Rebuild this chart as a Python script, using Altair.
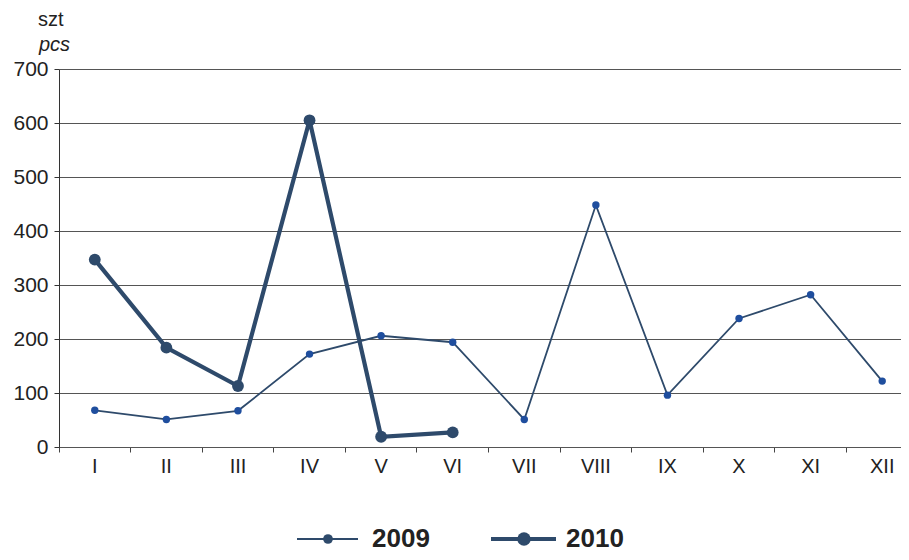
import altair as alt
import pandas as pd

months = ["I", "II", "III", "IV", "V", "VI", "VII", "VIII", "IX", "X", "XI", "XII"]
values_2009 = [68, 51, 67, 172, 206, 194, 51, 448, 96, 238, 282, 122]
values_2010 = [347, 184, 113, 605, 19, 27]
series = ["2009", "2010"]
y_ticks = [0, 100, 200, 300, 400, 500, 600, 700]
unit_labels = ["szt", "pcs"]

rows = []
for m, v in zip(months, values_2009):
    rows.append({"month": m, "year": series[0], "value": v})
for m, v in zip(months, values_2010):
    rows.append({"month": m, "year": series[1], "value": v})
df = pd.DataFrame(rows)

LINE_COLOR = "#2e4a6b"
DOT_2009 = "#1f4e9e"
FONT = "Liberation Sans"

x_enc = alt.X(
    "month:N",
    sort=months,
    bandPosition=0.5,
    scale=alt.Scale(type="band", domain=months, paddingInner=0, paddingOuter=0,
                    range=[0, 859]),
    axis=alt.Axis(
        title=None, labelAngle=0, bandPosition=0, tickSize=5,
        labelPadding=4, labelFontSize=20, labelFont=FONT, labelColor="#222",
        gridColor="#555", gridWidth=1, domainColor="#555", tickColor="#444",
    ),
)
y_enc = alt.Y(
    "value:Q",
    scale=alt.Scale(domain=[0, 700], nice=False, zero=True),
    axis=alt.Axis(
        title=None, values=y_ticks, tickSize=5, labelPadding=6,
        labelFontSize=21, labelFont=FONT, labelColor="#222",
        gridColor="#555", gridWidth=1, domainColor="#333", tickColor="#333",
    ),
)

base = alt.Chart(df).encode(x=x_enc, y=y_enc)

line09 = base.transform_filter(alt.datum.year == series[0]).mark_line(
    color=LINE_COLOR, strokeWidth=1.8)
pts09 = base.transform_filter(alt.datum.year == series[0]).mark_point(
    filled=True, size=55, color=DOT_2009, opacity=1)
line10 = base.transform_filter(alt.datum.year == series[1]).mark_line(
    color=LINE_COLOR, strokeWidth=4.2)
pts10 = base.transform_filter(alt.datum.year == series[1]).mark_point(
    filled=True, size=140, color=LINE_COLOR, opacity=1)

unit_df = pd.DataFrame({"t": unit_labels})
szt = alt.Chart(unit_df).transform_filter(alt.datum.t == unit_labels[0]).mark_text(
    align="left", baseline="alphabetic", fontSize=20, font=FONT, color="#222"
).encode(x=alt.value(-21), y=alt.value(-43), text="t:N")
pcs = alt.Chart(unit_df).transform_filter(alt.datum.t == unit_labels[1]).mark_text(
    align="left", baseline="alphabetic", fontSize=20, font=FONT, color="#222",
    fontStyle="italic"
).encode(x=alt.value(-20), y=alt.value(-18), text="t:N")

leg_df = pd.DataFrame({"year": series})
LEG_Y = 470


def legend_item(label, x0, x1, xc, xt, width, size):
    d = alt.Chart(leg_df).transform_filter(alt.datum.year == label)
    rule = d.mark_rule(color=LINE_COLOR, strokeWidth=width).encode(
        x=alt.value(x0), x2=alt.value(x1), y=alt.value(LEG_Y))
    dot = d.mark_point(filled=True, size=size, color=LINE_COLOR, opacity=1).encode(
        x=alt.value(xc), y=alt.value(LEG_Y))
    txt = d.mark_text(align="left", baseline="middle", fontSize=26, fontWeight="bold",
                      font=FONT, color="#222").encode(
        x=alt.value(xt), y=alt.value(LEG_Y), text="year:N")
    return [rule, dot, txt]


legend_layers = legend_item(series[0], 238, 299, 269, 313, 1.8, 95) + \
    legend_item(series[1], 432, 497, 465, 507, 4.2, 180)

chart = alt.layer(
    line09, pts09, line10, pts10, szt, pcs, *legend_layers
).properties(
    width=842,
    height=378,
    padding={"left": 51, "top": 61, "right": 0, "bottom": 105},
    autosize=alt.AutoSizeParams(type="none"),
).configure_view(strokeWidth=0, stroke="transparent")

chart.save("out.html", embed_options={"renderer": "svg", "actions": False})
